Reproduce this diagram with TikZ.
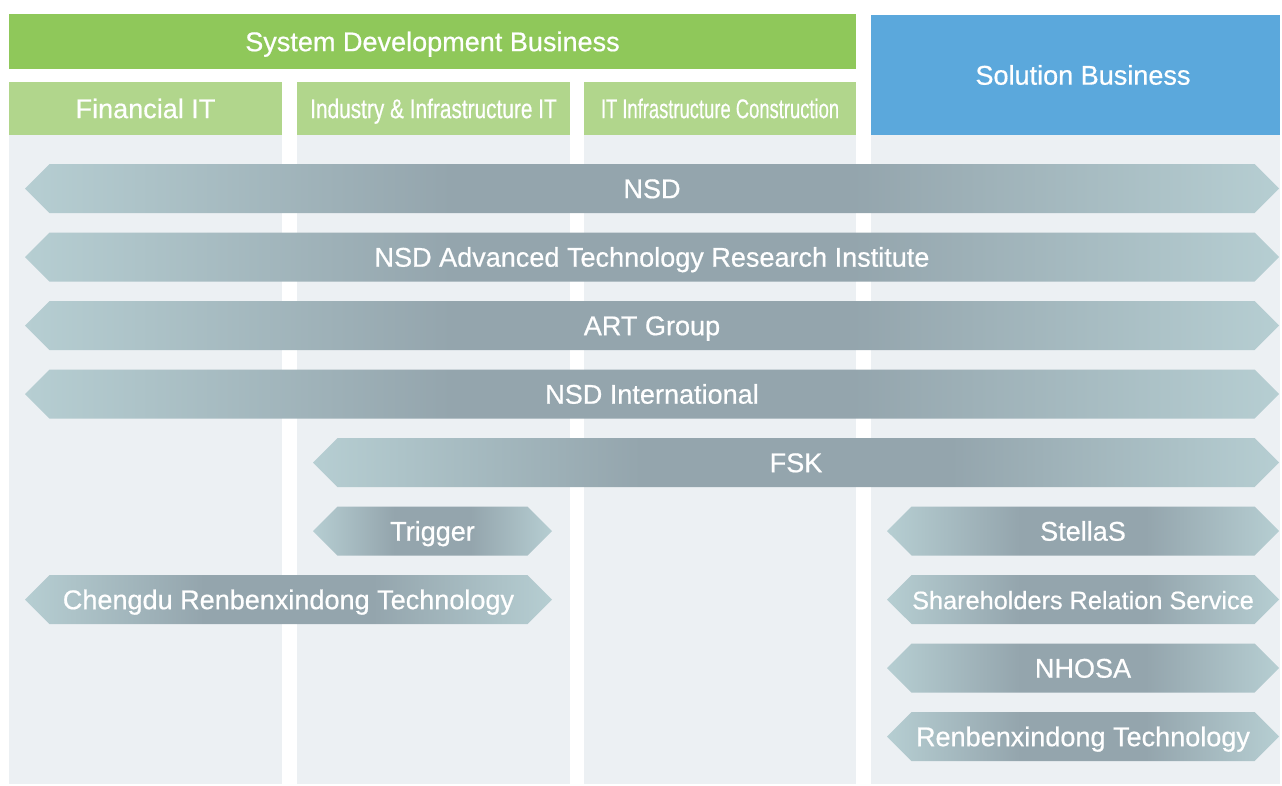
\documentclass[tikz,border=0pt]{standalone}
\usepackage{fontspec}
\usepackage{graphicx}
\setmainfont{Liberation Sans}[BoldFont={Liberation Sans}, BoldFeatures={FakeBold=0.6}]
\usetikzlibrary{shapes.symbols}

\definecolor{sysgreen}{HTML}{8FC85A}
\definecolor{subgreen}{HTML}{B1D68C}
\definecolor{solblue}{HTML}{5BA8DC}
\definecolor{colbg}{HTML}{ECF0F3}
\definecolor{bnlight}{HTML}{B6CED2}
\definecolor{bndark}{HTML}{94A5AD}

% light at both ends, dark over the middle part
\pgfdeclarehorizontalshading{bannershade}{100bp}{color(0bp)=(bnlight); color(25bp)=(bnlight);
  color(42bp)=(bndark); color(58bp)=(bndark); color(75bp)=(bnlight); color(100bp)=(bnlight)}

\tikzset{
  banner/.style={signal, signal to=west and east, signal pointer angle=90,
    inner sep=0pt, minimum height=0.98cm, minimum width=#1*0.02cm,
    shading=bannershade,
    text=white, font=\fontsize{15.4}{18}\selectfont\bfseries,
    text height=11pt, text depth=-0.03cm},
  head/.style 2 args={rectangle, inner sep=0pt,
    minimum width=#1*0.02cm, minimum height=#2*0.02cm,
    text=white, font=\fontsize{15.4}{18}\selectfont\bfseries,
    text height=11pt, text depth=0pt}
}

\begin{document}
\begin{tikzpicture}[x=0.02cm,y=-0.02cm]

\useasboundingbox (0,0) rectangle (1282,785);

% column backgrounds
\foreach \a/\b in {9/282, 297/570, 584/856, 871/1280}
	\fill[colbg] (\a,135) rectangle (\b,784);

% headers
\node[head={847}{55}, fill=sysgreen, text depth=-0.06cm] (sysdev) at (432.5,41.5) {System Development Business};
\node[head={273}{53}, fill=subgreen] (finit) at (145.5,108.5) {Financial IT};
\node[head={273}{53}, fill=subgreen] (indit) at (433.5,108.5) {\scalebox{0.77}[1]{Industry \& Infrastructure IT}};
\node[head={272}{53}, fill=subgreen] (itinfra) at (720,108.5) {\scalebox{0.68}[1]{IT Infrastructure Construction}};
\node[head={409}{120}, fill=solblue, text depth=-0.08cm] (solbiz) at (1075.5,75) {\hspace*{0.3cm}Solution Business};

% companies across all segments
\node[banner=1254] (nsd) at (652,188.5) {NSD};
\node[banner=1254] (atri) at (652,257) {NSD Advanced Technology Research Institute};
\node[banner=1254] (art) at (652,325.5) {ART Group};
\node[banner=1254] (intl) at (652,394) {NSD International};
\node[banner=966] (fsk) at (796,462.5) {FSK};

% system development only
\node[banner=239] (trigger) at (432.5,531) {Trigger};
\node[banner=527] (chengdu) at (288.5,599.5) {Chengdu Renbenxindong Technology};

% solution business
\node[banner=392] (stellas) at (1083,531) {StellaS};
\node[banner=392, font=\fontsize{14.4}{17}\selectfont\bfseries] (srs) at (1083,599.5) {Shareholders Relation Service};
\node[banner=392] (nhosa) at (1083,668) {NHOSA};
\node[banner=392] (renben) at (1083,736.5) {Renbenxindong Technology};

\end{tikzpicture}
\end{document}
